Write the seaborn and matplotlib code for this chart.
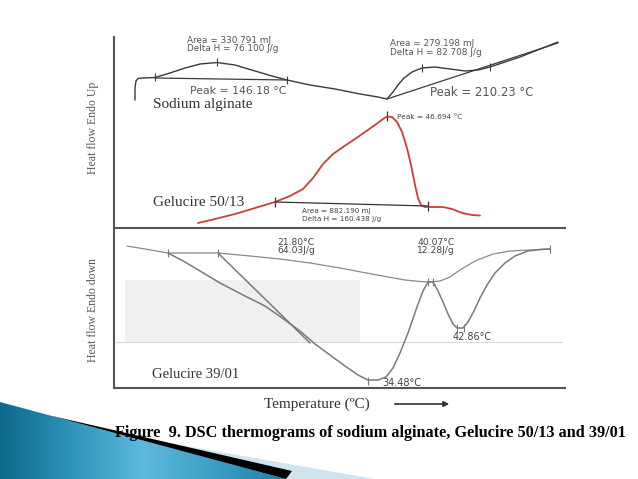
import numpy as np
import pandas as pd
import matplotlib
matplotlib.use('Agg')
import matplotlib.pyplot as plt
from matplotlib.patches import Polygon
from matplotlib.colors import LinearSegmentedColormap
import seaborn as sns

# data (x = scan position, y = signal, screen units)
sa_x = [135, 135, 136, 138, 142, 155, 170, 185, 200, 217, 235, 255, 272, 287, 310, 335, 360, 378, 387,
        393, 398, 404, 412, 422, 435, 450, 465, 478, 490, 505, 520, 535, 548, 558]
sa_y = [100, 88, 81, 78.5, 78, 77.5, 73, 68, 64, 62.5, 65, 71, 76, 80, 85, 89, 94, 97, 99,
        92, 85, 78, 72, 68, 67, 69, 71, 70, 67, 62, 57, 51, 46, 42]
sa_base1_x = [155, 287]
sa_base1_y = [78, 80]
sa_base2_x = [387, 558]
sa_base2_y = [99, 43]
sa_marks_x = [155, 217, 287, 422, 490]
sa_marks_y = [77.5, 62.5, 80, 68, 67]

g50_x = [198, 215, 235, 255, 275, 290, 303, 313, 323, 333, 343, 355, 365, 375, 383, 387, 392, 397,
         402, 407, 411, 415, 418, 421, 425, 432, 443, 452, 462, 472, 480]
g50_y = [223, 219, 214, 208, 202, 196, 189, 178, 164, 154, 147, 139, 132, 125, 119, 116.5, 117, 122,
         132, 148, 165, 185, 198, 205, 207, 207, 207, 209, 213, 215, 215.5]
g50_base_x = [275, 428]
g50_base_y = [202, 206]
g50_marks_x = [275, 387, 428]
g50_marks_y = [202, 116.5, 206]

g39_base_x = [127, 145, 168, 190, 218, 250, 280, 310, 340, 377, 405, 420, 430, 440, 450, 460, 475,
              493, 510, 530, 550]
g39_base_y = [246, 249, 253, 253, 253, 256, 259, 263, 268, 275, 280, 281.5, 282, 281, 277, 270, 261,
              254, 251, 250, 249]
g39_x = [168, 185, 200, 220, 245, 265, 285, 300, 315, 330, 345, 358, 368, 378, 386, 393, 400, 408,
         417, 423, 428, 433, 438, 443, 448, 453, 457, 463, 468, 474, 480, 487, 495, 505, 515, 528, 540, 550]
g39_y = [253, 262, 271, 283, 296, 306, 320, 331, 344, 355, 366, 375, 380, 380, 377, 368, 353, 333,
         307, 291, 282, 282, 291, 302, 314, 324, 328, 328, 322, 311, 298, 285, 273, 263, 256, 251, 249.5, 249]
g39_tan_x = [218, 310]
g39_tan_y = [253, 343]
g39_marks_x = [168, 218, 368, 428, 433, 457, 464, 550]
g39_marks_y = [253, 253, 381, 282, 282, 328, 328, 249]

sns.set_style('white')
plt.rcParams['font.family'] = ['Liberation Serif', 'DejaVu Sans']

fig = plt.figure(figsize=(6.38, 4.79), dpi=100)
fig.patch.set_facecolor('white')

# background axes in page pixels for slide decoration and free text
bg = fig.add_axes([0, 0, 1, 1], zorder=0)
bg.set_xlim(0, 638)
bg.set_ylim(479, 0)
bg.axis('off')

light = Polygon([(180, 445), (375, 479), (180, 479)], closed=True, color='#cfe4ee', lw=0)
bg.add_patch(light)
blue = Polygon([(0, 402), (286, 479), (0, 479)], closed=True, color='none', lw=0)
bg.add_patch(blue)
cmap = LinearSegmentedColormap.from_list('slide', ['#0d6a8b', '#2f93ba', '#5cbadc', '#3d9fc4', '#1f7fa5'])
grad = np.tile(np.linspace(0, 1, 256), (20, 1))
im = bg.imshow(grad, extent=(0, 286, 479, 402), cmap=cmap, aspect='auto', zorder=1)
im.set_clip_path(blue)
black = Polygon([(50, 415.5), (292, 471), (286, 479)], closed=True, color='black', lw=0, zorder=2)
bg.add_patch(black)

# faint scan artefacts in the lower panel
bg.add_patch(Polygon([(125, 280), (360, 280), (360, 342), (125, 342)], closed=True,
                     color='#f0f0f0', lw=0, zorder=0.5))
bg.plot([116, 562], [342, 342], color='#d8d8d8', lw=0.8, zorder=0.6)

top = fig.add_axes([114 / 638, 1 - 228 / 479, 451 / 638, 191 / 479], zorder=2)
bot = fig.add_axes([114 / 638, 1 - 388 / 479, 451 / 638, 160 / 479], zorder=2)
for ax, (y0, y1) in ((top, (228, 37)), (bot, (388, 228))):
    ax.set_xlim(114, 565)
    ax.set_ylim(y0, y1)
    ax.patch.set_alpha(0)
    ax.set_xticks([])
    ax.set_yticks([])
    ax.set_xlabel('')
    ax.set_ylabel('')

top.spines['top'].set_visible(False)
top.spines['right'].set_visible(False)
top.spines['bottom'].set_visible(False)
top.spines['left'].set_color('#555555')
top.spines['left'].set_linewidth(1.5)
bot.spines['right'].set_visible(False)
for s in ('left', 'top', 'bottom'):
    bot.spines[s].set_color('#555555')
    bot.spines[s].set_linewidth(1.5)

dark = '#3a3a3a'
red = '#c8413a'
grey = '#7a7a7a'

sns.lineplot(x=sa_x, y=sa_y, ax=top, color=dark, lw=1.0, sort=False, estimator=None)
sns.lineplot(x=sa_base1_x, y=sa_base1_y, ax=top, color=dark, lw=0.9, sort=False, estimator=None)
sns.lineplot(x=sa_base2_x, y=sa_base2_y, ax=top, color=dark, lw=0.9, sort=False, estimator=None)
sns.scatterplot(x=sa_marks_x, y=sa_marks_y, ax=top, marker='|', s=40, color=dark, linewidth=0.8)

sns.lineplot(x=g50_x, y=g50_y, ax=top, color=red, lw=1.3, sort=False, estimator=None)
sns.lineplot(x=g50_base_x, y=g50_base_y, ax=top, color='#333333', lw=0.9, sort=False, estimator=None)
sns.scatterplot(x=g50_marks_x, y=g50_marks_y, ax=top, marker='|', s=60, color='#333333', linewidth=0.9)

sns.lineplot(x=g39_base_x, y=g39_base_y, ax=bot, color='#8a8a8a', lw=0.9, sort=False, estimator=None)
sns.lineplot(x=g39_x, y=g39_y, ax=bot, color=grey, lw=1.1, sort=False, estimator=None)
sns.lineplot(x=g39_tan_x, y=g39_tan_y, ax=bot, color=grey, lw=1.1, sort=False, estimator=None)
sns.scatterplot(x=g39_marks_x, y=g39_marks_y, ax=bot, marker='|', s=40, color=grey, linewidth=0.8)

# annotations, page pixel positions
sans = 'DejaVu Sans'
tc = '#555555'
bg.text(187, 40, 'Area = 330.791 mJ', fontsize=6.4, family=sans, color=tc, va='center', zorder=3)
bg.text(187, 48.5, 'Delta H = 76.100 J/g', fontsize=6.4, family=sans, color=tc, va='center', zorder=3)
bg.text(390, 43.5, 'Area = 279.198 mJ', fontsize=6.4, family=sans, color=tc, va='center', zorder=3)
bg.text(390, 52, 'Delta H = 82.708 J/g', fontsize=6.4, family=sans, color=tc, va='center', zorder=3)
bg.text(190, 91, 'Peak = 146.18 °C', fontsize=7.8, family=sans, color=tc, va='center', zorder=3)
bg.text(430, 92, 'Peak = 210.23 °C', fontsize=8.4, family=sans, color=tc, va='center', zorder=3)
bg.text(153, 104, 'Sodium alginate', fontsize=11, color='#333333', va='center', zorder=3)
bg.text(397, 117, 'Peak = 46.694 °C', fontsize=5.3, family=sans, color='#444444', va='center', zorder=3)
bg.text(153, 203, 'Gelucire 50/13', fontsize=11, color='#333333', va='center', zorder=3)
bg.text(302, 210.5, 'Area = 882.190 mJ', fontsize=5.2, family=sans, color='#444444', va='center', zorder=3)
bg.text(302, 218.5, 'Delta H = 160.438 J/g', fontsize=5.2, family=sans, color='#444444', va='center', zorder=3)

bg.text(277, 242, '21.80°C', fontsize=6.6, family=sans, color='#444444', va='center', zorder=3)
bg.text(277, 250.5, '64.03J/g', fontsize=6.6, family=sans, color='#444444', va='center', zorder=3)
bg.text(417, 242, '40.07°C', fontsize=6.6, family=sans, color='#444444', va='center', zorder=3)
bg.text(417, 250.5, '12.28J/g', fontsize=6.6, family=sans, color='#444444', va='center', zorder=3)
bg.text(453, 337, '42.86°C', fontsize=7.0, family=sans, color='#444444', va='center', zorder=3)
bg.text(382, 383, '34.48°C', fontsize=7.0, family=sans, color='#444444', va='center', zorder=3)
bg.text(152, 375, 'Gelucire 39/01', fontsize=10.5, color='#333333', va='center', zorder=3)

bg.text(93, 128, 'Heat flow Endo Up', fontsize=8.5, color='#555555', rotation=90,
        ha='center', va='center', zorder=3)
bg.text(93, 310, 'Heat flow Endo down', fontsize=8.5, color='#555555', rotation=90,
        ha='center', va='center', zorder=3)

bg.text(264, 404, 'Temperature (ºC)', fontsize=11, color='#333333', va='center', zorder=3)
bg.annotate('', xy=(452, 404), xytext=(392, 404),
            arrowprops=dict(arrowstyle='-|>', color='#333333', lw=1.2, mutation_scale=8), zorder=3)

bg.text(115, 433, 'Figure  9. DSC thermograms of sodium alginate, Gelucire 50/13 and 39/01',
        fontsize=11.7, fontweight='bold', color='black', va='center', zorder=3)

fig.savefig('out.png', dpi=100)
